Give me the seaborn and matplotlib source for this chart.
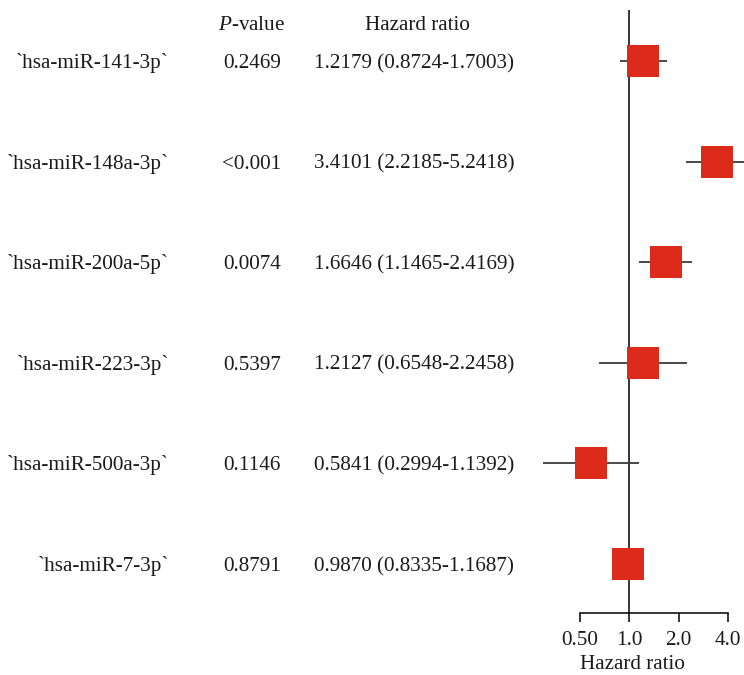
import numpy as np
import pandas as pd
import matplotlib
matplotlib.use("Agg")
import matplotlib.pyplot as plt
import matplotlib.transforms as mtransforms
import seaborn as sns

# Cox regression results per miRNA
mirnas = ["`hsa-miR-141-3p`", "`hsa-miR-148a-3p`", "`hsa-miR-200a-5p`",
          "`hsa-miR-223-3p`", "`hsa-miR-500a-3p`", "`hsa-miR-7-3p`"]
p_values = ["0.2469", "<0.001", "0.0074", "0.5397", "0.1146", "0.8791"]
hazard_ratio = [1.2179, 3.4101, 1.6646, 1.2127, 0.5841, 0.9870]
ci_low = [0.8724, 2.2185, 1.1465, 0.6548, 0.2994, 0.8335]
ci_high = [1.7003, 5.2418, 2.4169, 2.2458, 1.1392, 1.1687]
x_ticks = [0.5, 1.0, 2.0, 4.0]
x_tick_labels = ["0.50", "1.0", "2.0", "4.0"]

df = pd.DataFrame({
    "mirna": mirnas,
    "row": np.arange(len(mirnas)),
    "hr": hazard_ratio,
    "lo": ci_low,
    "hi": ci_high,
    "p": p_values,
})

sns.set_style("white")
plt.rcParams["font.family"] = ["Liberation Serif", "DejaVu Serif"]
plt.rcParams["mathtext.fontset"] = "custom"
plt.rcParams["mathtext.rm"] = "Liberation Serif"
plt.rcParams["mathtext.it"] = "Liberation Serif:italic"

W, H = 744, 675
fig = plt.figure(figsize=(W / 100, H / 100), dpi=100)
fig.patch.set_facecolor("white")

# forest panel: pixel box x 520..744, y 10..613
ax = fig.add_axes([520 / W, (H - 613) / H, (744 - 520) / W, (613 - 10) / H])
ax.set_facecolor("none")
ax.set_xscale("log", base=2)
px_per_oct = 49.33
ax.set_xlim(2 ** ((520 - 629.3) / px_per_oct), 2 ** ((744 - 629.3) / px_per_oct))
row_gap = 100.6
ax.set_ylim((613 - 61) / row_gap, (10 - 61) / row_gap)

red = "#DC2B1B"
ink = "#1a1a1a"
fs = 15.2

ax.axvline(1.0, color="black", lw=1.1, zorder=1)
ax.hlines(df["row"], df["lo"], df["hi"], color="#3a3a3a", lw=1.3, zorder=2, clip_on=False)
sns.scatterplot(data=df, x="hr", y="row", marker="s", s=23.5 ** 2, color=red,
                linewidth=0, ax=ax, zorder=3, legend=False, clip_on=False)

for side in ["top", "right", "left"]:
    ax.spines[side].set_visible(False)
ax.spines["bottom"].set_bounds(0.5, 4.0)
ax.spines["bottom"].set_linewidth(1.1)
ax.spines["bottom"].set_color("black")
ax.set_xticks(x_ticks)
ax.set_xticklabels(x_tick_labels, color=ink)
ax.xaxis.set_minor_locator(matplotlib.ticker.NullLocator())
ax.tick_params(axis="x", direction="out", length=6.3, width=1.1, color="black",
               labelsize=fs, pad=6.5, bottom=True)
ax.set_yticks([])
ax.set_xlabel("Hazard ratio", fontsize=fs, labelpad=4, color=ink)
ax.set_ylabel("")

# table columns to the left of the panel
trans = mtransforms.blended_transform_factory(fig.transFigure, ax.transData)
base = 7.0 / row_gap
for _, r in df.iterrows():
    y = r["row"] + base
    ax.text(169 / W, y, r["mirna"], transform=trans, ha="right", va="baseline",
            fontsize=fs, color=ink)
    ax.text(252 / W, y, r["p"], transform=trans, ha="center", va="baseline",
            fontsize=fs, color=ink)
    ax.text(414 / W, y,
            f"{r['hr']:.4f} ({r['lo']:.4f}-{r['hi']:.4f})",
            transform=trans, ha="center", va="baseline", fontsize=fs, color=ink)

fig.text(252 / W, 1 - 29.5 / H, r"$P$-value", ha="center", va="baseline", fontsize=fs, color=ink)
fig.text(417 / W, 1 - 29.5 / H, "Hazard ratio", ha="center", va="baseline", fontsize=fs, color=ink)

fig.savefig("out.png", dpi=100, facecolor="white")
